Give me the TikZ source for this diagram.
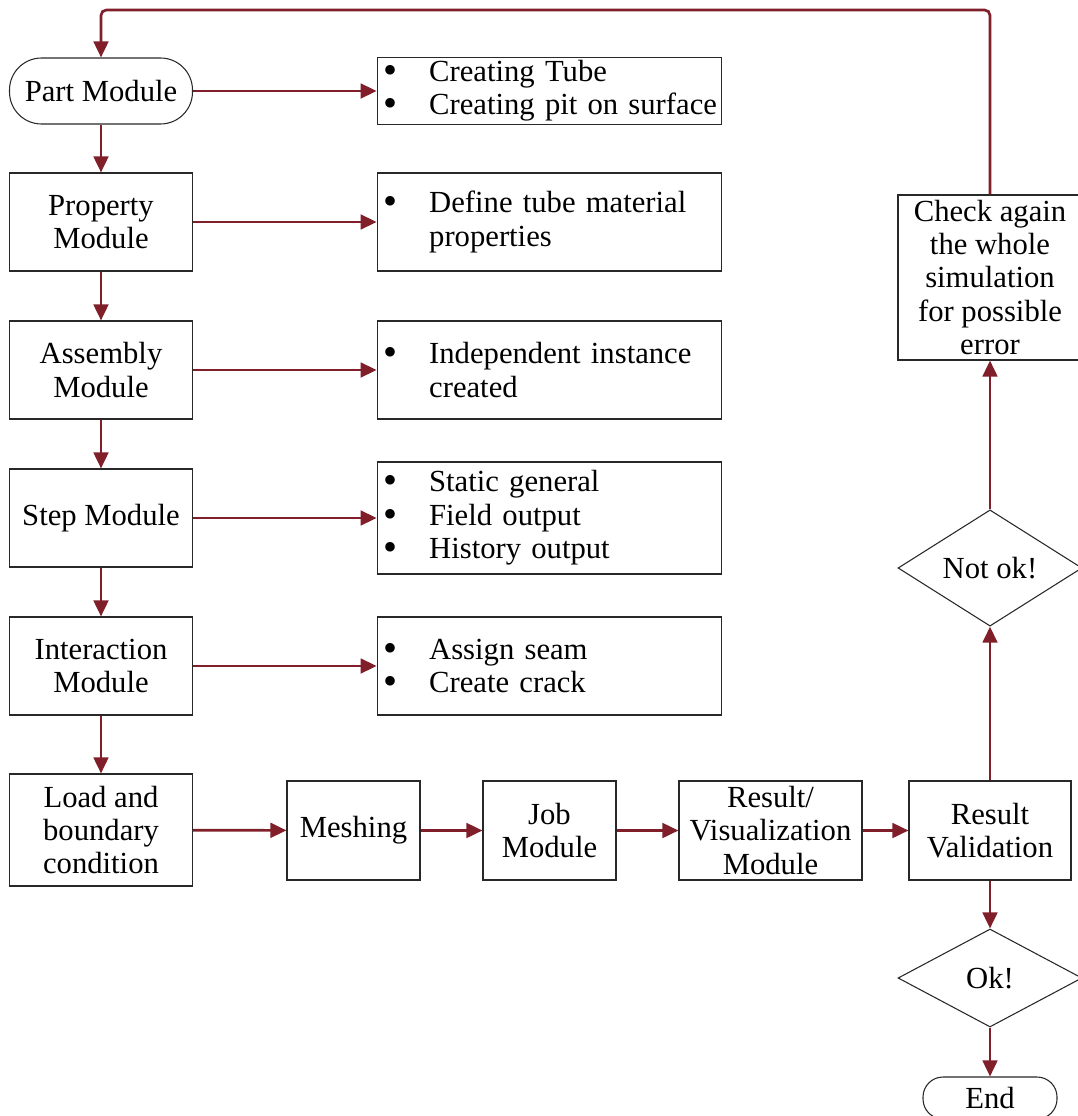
\documentclass[tikz,border=0pt]{standalone}
\usepackage{fontspec}
\setmainfont{Liberation Serif}
\usetikzlibrary{shapes.geometric, arrows.meta, positioning}
\definecolor{flowred}{RGB}{128, 30, 42}
\definecolor{boxgray}{RGB}{40, 40, 40}
\newcommand{\blt}{\makebox[37pt][l]{\hspace*{3pt}\smash{\raisebox{-1.5pt}{\fontsize{30}{25}\selectfont\textbullet}}}}
\newcommand{\bgap}{\hspace*{37pt}}
\tikzset{
    base box/.style={
        rectangle,
        draw=boxgray,
        line width=0.8pt,
        align=center,
        inner sep=2pt,
        font=\fontsize{23}{25}\selectfont
    },
    module box/.style={
        base box,
        minimum width=137.25pt,
        minimum height=73.5pt
    },
    small box/.style={
        base box,
        minimum width=99.75pt,
        minimum height=74.25pt
    },
    list box/.style={
        base box,
        align=left,
        text width=254.5pt,
        inner xsep=2pt
    },
    terminal/.style={
        base box,
        rounded corners=24pt,
        minimum width=137.25pt,
        minimum height=49.5pt
    },
    decision/.style={
        diamond,
        draw=boxgray,
        line width=0.8pt,
        inner sep=0pt,
        minimum width=138pt,
        minimum height=73.5pt,
        font=\fontsize{23}{25}\selectfont
    },
    arrow/.style={
        -{Triangle[length=12pt, width=11pt]},
        line width=2pt,
        draw=flowred
    }
}

\begin{document}
\begin{tikzpicture}[x=0.75pt, y=-0.75pt]

\useasboundingbox (0,0) rectangle (1077,1116);

% === LEFT COLUMN ===
\node[terminal] (part) at (101, 91) {Part Module};
\node[module box] (property) at (101, 222) {Property\\Module};
\node[module box] (assembly) at (101, 370) {Assembly\\Module};
\node[module box] (step_mod) at (101, 518) {Step Module};
\node[module box] (interaction) at (101, 666) {Interaction\\Module};
\node[module box, minimum height=84pt] (load) at (101, 830) {Load and\\boundary\\condition};

% === DETAIL LISTS ===
\node[list box, minimum height=49.5pt] (list_part) at (549.5, 91) {
    \mbox{\blt Creating Tube}\\
    \mbox{\blt Creating pit on surface}
};
\node[list box, minimum height=73.5pt] (list_property) at (549.5, 222) {
    \mbox{\blt Define tube material}\\
    \mbox{\bgap properties}
};
\node[list box, minimum height=73.5pt] (list_assembly) at (549.5, 370) {
    \mbox{\blt Independent instance}\\
    \mbox{\bgap created}
};
\node[list box, minimum height=84pt] (list_step) at (549.5, 518) {
    \mbox{\blt Static general}\\
    \mbox{\blt Field output}\\
    \mbox{\blt History output}
};
\node[list box, minimum height=73.5pt] (list_interaction) at (549.5, 666) {
    \mbox{\blt Assign seam}\\
    \mbox{\blt Create crack}
};

% === BOTTOM ROW ===
\node[small box] (meshing) at (353.5, 830.5) {Meshing};
\node[small box] (job) at (549.5, 830.5) {Job\\Module};
\node[small box, minimum width=137.25pt] (result) at (770.5, 830.5) {Result/\\Visualization\\Module};
\node[small box, minimum width=121.5pt] (validation) at (990, 830.5) {Result\\Validation};

% === RIGHT COLUMN ===
\node[decision] (not_ok) at (990, 568) {Not ok!};
\node[base box, minimum width=138pt, minimum height=123.75pt] (check) at (990, 277.5) {
    Check again\\
    the whole\\
    simulation\\
    for possible\\
    error
};
\node[decision] (ok) at (990, 978) {Ok!};
\node[terminal, rounded corners=15pt, minimum width=100.5pt, minimum height=31.5pt] (end_node) at (990, 1098) {End};

% === CONNECTIONS ===
\draw[arrow] (part) -- (property);
\draw[arrow] (property) -- (assembly);
\draw[arrow] (assembly) -- (step_mod);
\draw[arrow] (step_mod) -- (interaction);
\draw[arrow] (interaction) -- (load);

\draw[arrow] (part) -- (list_part);
\draw[arrow] (property) -- (list_property);
\draw[arrow] (assembly) -- (list_assembly);
\draw[arrow] (step_mod) -- (list_step);
\draw[arrow] (interaction) -- (list_interaction);

\draw[arrow] (load) -- (meshing);
\draw[arrow] (meshing) -- (job);
\draw[arrow] (job) -- (result);
\draw[arrow] (result) -- (validation);

\draw[arrow] (validation) -- (not_ok);
\draw[arrow] (not_ok) -- (check);
\draw[arrow] (validation) -- (ok);
\draw[arrow] (ok) -- (end_node);

% Feedback loop
\coordinate (loop_turn) at (101, 10);
\draw[arrow, rounded corners=4pt] (check.north) |- (loop_turn) -- (part.north);

\end{tikzpicture}
\end{document}
